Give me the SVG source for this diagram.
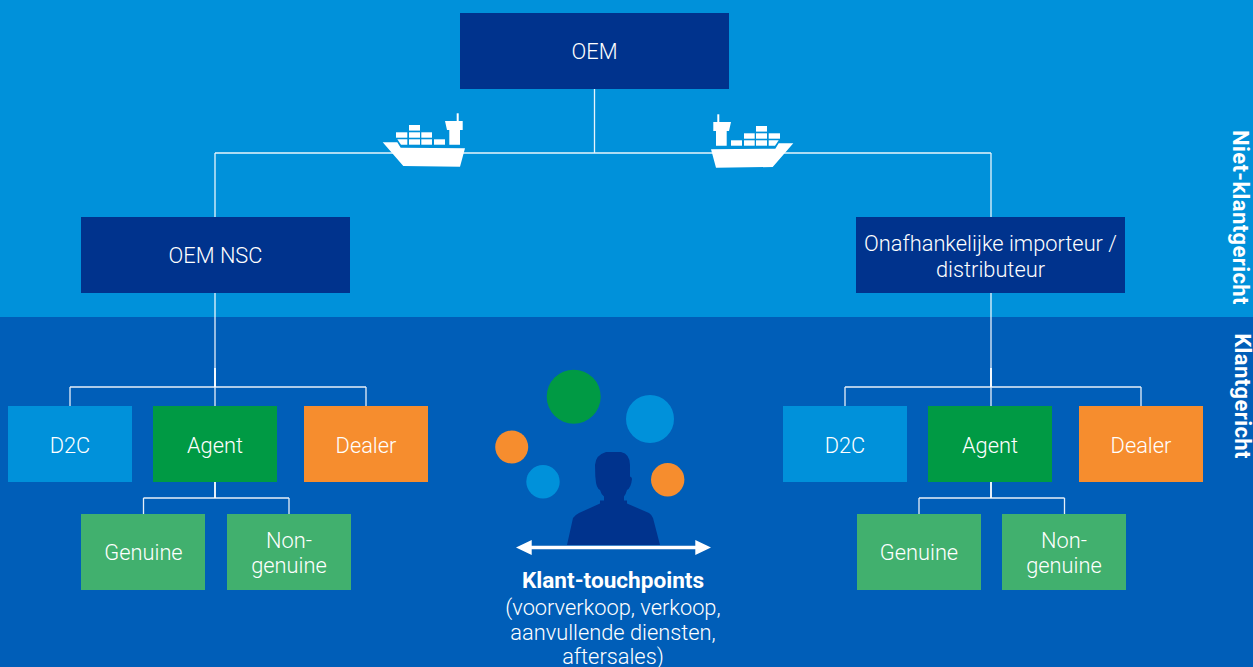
<svg xmlns="http://www.w3.org/2000/svg" xmlns:xlink="http://www.w3.org/1999/xlink" width="1253" height="667" viewBox="0 0 1253 667">
<style>
text{font-family:Roboto,"Liberation Sans",sans-serif;font-weight:300;font-size:21.8px;fill:#fff;text-anchor:middle}
.side{font-weight:700;font-size:22px;letter-spacing:.4px}
.b{font-weight:700;font-size:22.6px}
.dark{fill:#00338D}.blue{fill:#0091DA}.green{fill:#009A44}.orange{fill:#F68D2E}.lgreen{fill:#41B06E}
.c{fill:none;stroke:#fff;stroke-width:1.3;stroke-opacity:.9}
.t{stroke-width:2}
</style>
<defs>
<g id="ship" fill="#fff">
<path d="M382.7 142.3H397.300L400.700 147.700L465 148.300L460 166.700L403.300 166Z"/>
<rect x="409" y="125" width="11" height="5.600"/>
<rect x="396" y="132.300" width="11.300" height="5.400"/><rect x="409" y="132.300" width="11" height="5.400"/><rect x="421.300" y="132.300" width="10.700" height="5.400"/>
<path d="M397.300 139.300H407.300V144.700H401Z"/><rect x="409" y="139.300" width="11" height="5.400"/><rect x="421.300" y="139.300" width="10.700" height="5.400"/><rect x="434" y="139.300" width="11" height="5.400"/>
<path d="M445 121H462.700V130H460V144.700H449.300V130H447Z"/><rect x="456.700" y="113.300" width="2" height="8"/>
</g>
</defs>
<rect width="1253" height="317" fill="#0091DA"/>
<rect y="317" width="1253" height="350" fill="#005EB8"/>
<g id="connectors">
<path class="c" d="M594.500 89V153M215 153H991M215 153V217M991 153V217"/>
<path class="c" d="M215 293V406M70 387H366M70 387V406M366 387V406"/><path class="c t" d="M215 368V387M215 482V498"/>
<path class="c" d="M143.500 498H289M143.500 498V514M289 498V514"/>
<path class="c" d="M991 293V406M845 387H1141M845 387V406M1141 387V406"/><path class="c t" d="M991 368V387M991 482V498"/>
<path class="c" d="M919 498H1064.500M919 498V514M1064.500 498V514"/>
</g>
<g id="ship-left"><use xlink:href="#ship" href="#ship"/></g>
<g id="ship-right"><use xlink:href="#ship" href="#ship" transform="translate(1176 1) scale(-1 1)"/></g>
<g id="oem"><rect class="dark" x="460" y="13" width="269" height="76"/><text x="594.500" y="59">OEM</text></g>
<g id="oem-nsc"><rect class="dark" x="81" y="217" width="269" height="76"/><text x="215.500" y="263">OEM NSC</text></g>
<g id="importeur"><rect class="dark" x="856" y="217" width="269" height="76"/><text x="990.500" y="250.500">Onafhankelijke importeur /</text><text x="990.500" y="276.500">distributeur</text></g>
<g id="l-d2c"><rect class="blue" x="8" y="406" width="124" height="76"/><text x="70" y="452.500">D2C</text></g>
<g id="l-agent"><rect class="green" x="153" y="406" width="124" height="76"/><text x="215" y="452.500">Agent</text></g>
<g id="l-dealer"><rect class="orange" x="304" y="406" width="124" height="76"/><text x="366" y="452.500">Dealer</text></g>
<g id="l-genuine"><rect class="lgreen" x="81" y="514" width="124" height="76"/><text x="143.500" y="559.500">Genuine</text></g>
<g id="l-non"><rect class="lgreen" x="227" y="514" width="124" height="76"/><text x="289" y="547.500">Non-</text><text x="289" y="572.500">genuine</text></g>
<g id="r-d2c"><rect class="blue" x="783" y="406" width="124" height="76"/><text x="845" y="452.500">D2C</text></g>
<g id="r-agent"><rect class="green" x="928" y="406" width="124" height="76"/><text x="990" y="452.500">Agent</text></g>
<g id="r-dealer"><rect class="orange" x="1079" y="406" width="124" height="76"/><text x="1141" y="452.500">Dealer</text></g>
<g id="r-genuine"><rect class="lgreen" x="857" y="514" width="124" height="76"/><text x="919" y="559.500">Genuine</text></g>
<g id="r-non"><rect class="lgreen" x="1002" y="514" width="124" height="76"/><text x="1064" y="547.500">Non-</text><text x="1064" y="572.500">genuine</text></g>
<g id="touchpoints">
<circle class="green" cx="573.700" cy="396.700" r="27"/>
<circle class="blue" cx="650" cy="419" r="24"/>
<circle class="orange" cx="511.700" cy="447" r="16.500"/>
<circle class="blue" cx="543" cy="481.700" r="16.700"/>
<circle class="orange" cx="667.700" cy="479.700" r="16.700"/>
<path class="dark" d="M567 545L573 518Q575 515 579 513L600 503.500V500.500H604V496.500Q601 494 600 490Q596 488 595.500 478L595.300 476.500L595 465Q595.500 455 606 452H621Q630 454 630 465V476.500Q632 477 632 479Q631 488 627 490Q626 494 624 496.500V500.500H627V503.500L649 513Q652 515 653 518L660 545Z"/>
<path fill="#fff" d="M516 547.500L531.700 540V545.800H695.300V540L711 547.500L695.300 555V549.200H531.700V555Z"/>
<text class="b" x="613" y="587.500">Klant-touchpoints</text>
<text x="613" y="614.500">(voorverkoop, verkoop,</text>
<text x="613" y="639.500">aanvullende diensten,</text>
<text x="613" y="663.500">aftersales)</text>
</g>
<g id="labels">
<text class="side" transform="translate(1233 217.500) rotate(90)">Niet-klantgericht</text>
<text class="side" transform="translate(1235 396) rotate(90)">Klantgericht</text>
</g>
</svg>
